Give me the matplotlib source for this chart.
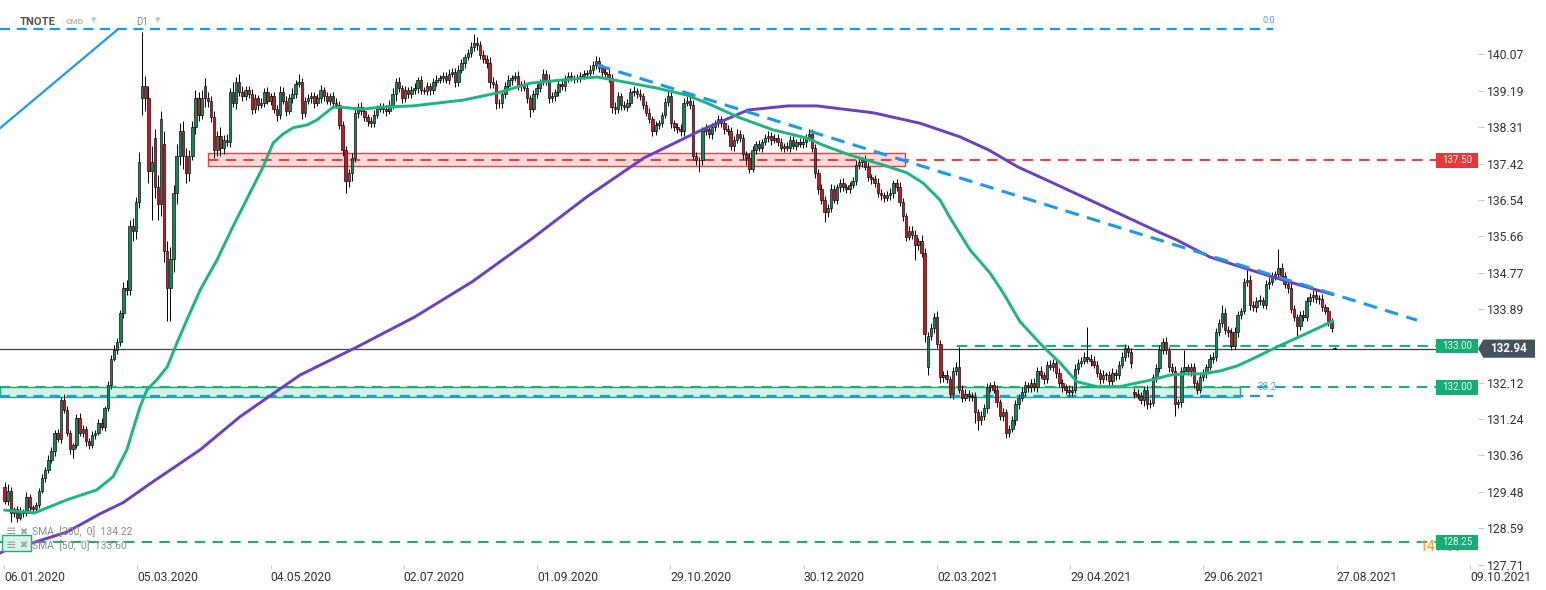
import matplotlib
matplotlib.use('Agg')
import matplotlib.pyplot as plt
from matplotlib.patches import Rectangle, Polygon
import numpy as np

plt.rcParams['font.family'] = ['Roboto', 'DejaVu Sans']

# daily closes, TNOTE D1, 06.01.2020 -> 26.08.2021
closes = [
    129.25, 129.5, 128.95, 129.05, 128.85, 129.0, 128.95, 129.35, 129.1, 129.05,
    129.15, 129.5, 129.8, 130.0, 130.25, 130.45, 130.9, 130.75, 131.7, 131.45,
    130.9, 130.5, 130.6, 131.25, 130.9, 131.0, 130.7, 130.6, 130.85, 130.9,
    131.15, 131.05, 131.5, 132.05, 132.7, 132.9, 133.1, 133.8, 134.4, 134.35,
    135.9, 135.8, 136.5, 137.45, 139.3, 139.0, 137.25, 137.45, 136.85, 136.45,
    138.5, 135.3, 134.4, 135.1, 136.7, 137.6, 138.2, 137.6, 137.2, 137.6,
    138.3, 139.0, 138.6, 139.0, 139.0, 138.95, 138.55, 137.75, 138.1, 137.8,
    138.0, 137.95, 139.15, 138.9, 139.4, 139.15, 139.05, 139.2, 139.12, 138.75,
    139.0, 138.85, 138.9, 139.15, 138.95, 139.05, 138.75, 138.6, 139.15, 138.95,
    138.7, 139.0, 139.1, 139.35, 139.4, 138.65, 138.95, 139.0, 139.05, 138.9,
    139.0, 139.2, 139.05, 138.95, 139.05, 138.9, 138.85, 138.35, 137.75, 137.0,
    137.2, 137.55, 138.65, 138.8, 138.7, 138.55, 138.45, 138.4, 138.6, 138.75,
    138.8, 138.75, 138.7, 138.85, 139.1, 139.4, 139.25, 139.0, 139.2, 139.1,
    139.2, 139.25, 139.45, 139.2, 139.18, 139.3, 139.2, 139.4, 139.45, 139.5,
    139.55, 139.45, 139.6, 139.65, 139.4, 139.7, 139.85, 140.0, 140.1, 140.25,
    140.35, 140.3, 140.05, 139.95, 139.85, 139.4, 139.35, 138.9, 138.88, 139.1,
    139.3, 139.45, 139.5, 139.55, 139.3, 139.35, 139.25, 139.0, 138.75, 139.1,
    139.25, 139.4, 139.6, 139.45, 139.0, 139.05, 139.15, 139.35, 139.3, 139.5,
    139.55, 139.5, 139.48, 139.5, 139.55, 139.6, 139.62, 139.7, 139.8, 139.9,
    139.75, 139.65, 139.6, 139.5, 138.8, 138.75, 139.05, 138.85, 138.8, 138.9,
    139.15, 139.18, 139.12, 139.05, 138.85, 138.65, 138.5, 138.2, 138.35, 138.4,
    138.6, 138.92, 139.05, 138.4, 138.3, 138.25, 138.2, 138.9, 138.95, 138.85,
    137.6, 137.5, 137.5, 138.2, 138.25, 138.15, 138.3, 138.4, 138.5, 138.4,
    138.25, 138.2, 137.85, 138.0, 138.15, 138.05, 137.65, 137.55, 137.3, 137.75,
    137.9, 137.8, 137.95, 138.05, 138.1, 138.0, 138.05, 137.95, 137.8, 137.85,
    137.8, 138.0, 137.85, 137.95, 137.9, 137.95, 138.05, 138.15, 137.8, 137.2,
    136.8, 136.55, 136.25, 136.35, 136.8, 136.55, 136.85, 136.95, 136.85, 136.8,
    136.9, 137.0, 137.4, 137.45, 137.5, 137.35, 137.1, 137.05, 136.95, 136.7,
    136.65, 136.6, 136.65, 136.7, 136.95, 136.85, 136.5, 136.15, 135.65, 135.8,
    135.7, 135.45, 135.55, 135.25, 133.3, 133.25, 133.45, 133.7, 133.05, 132.25,
    132.3, 132.2, 131.85, 132.4, 132.5, 131.95, 131.75, 131.85, 131.8, 131.78,
    131.4, 131.2, 131.3, 131.5, 132.0, 132.05, 131.95, 131.65, 131.3, 131.4,
    130.9, 131.0, 131.2, 131.6, 131.75, 131.9, 132.05, 132.0, 132.1, 132.0,
    132.4, 132.3, 132.2, 132.55, 132.5, 132.6, 132.35, 132.1, 132.0, 131.95,
    131.9, 131.95, 132.45, 132.6, 132.65, 132.75, 132.7, 132.65, 132.55, 132.35,
    132.2, 132.3, 132.3, 132.15, 132.35, 132.3, 132.55, 132.75, 132.95, 132.85,
    132.6, 131.85, 131.8, 131.7, 131.95, 131.6, 131.62, 132.25, 132.47, 132.9,
    133.1, 132.9, 132.5, 132.4, 131.6, 131.65, 132.4, 132.5, 132.4, 132.5,
    132.1, 131.95, 132.25, 132.35, 132.5, 132.7, 132.75, 133.35, 133.55, 133.8,
    133.4, 133.35, 133.0, 133.35, 133.75, 133.85, 134.55, 134.6, 134.0, 133.95,
    134.1, 134.12, 134.0, 134.5, 134.55, 134.7, 134.75, 134.9, 134.7, 134.5,
    134.4, 133.9, 133.7, 133.5, 133.75, 133.7, 134.1, 134.2, 134.25, 134.15,
    134.15, 133.95, 133.85, 133.6, 133.45, 132.94,
]

# opens that gap away from the previous close
gap_opens = {0: 129.6, 44: 139.0, 48: 138.05, 51: 137.9, 64: 139.3,
             295: 132.5, 361: 131.9, 425: 132.96}

# wick lengths above / below the body, in hundredths
wick_up = [
    10, 15, 8, 6, 8, 10, 5, 12, 8, 6,  8, 6, 10, 8, 12, 10, 8, 10, 8, 15,
    10, 8, 6, 10, 12, 8, 6, 8, 10, 8,  8, 10, 6, 10, 8, 12, 10, 8, 15, 20,
    15, 20, 12, 25, 130, 25, 30, 40, 20, 30,  20, 30, 25, 30, 20, 30, 20, 25, 20, 15,
    15, 20, 15, 20, 20, 15, 10, 15, 12, 20,  12, 15, 10, 25, 12, 20, 15, 10, 10, 12,
    10, 8, 12, 10, 12, 8, 10, 8, 15, 12,  10, 12, 15, 10, 20, 10, 8, 12, 10, 10,
    10, 12, 8, 10, 8, 10, 12, 8, 10, 10,  10, 12, 15, 10, 12, 10, 8, 10, 12, 10,
    10, 8, 10, 12, 15, 10, 12, 8, 10, 8,  10, 12, 8, 10, 8, 10, 8, 10, 12, 8,
    8, 10, 12, 8, 10, 12, 10, 8, 10, 12,  20, 15, 10, 12, 10, 15, 12, 10, 8, 10,
    10, 12, 8, 10, 12, 8, 10, 12, 8, 10,  10, 8, 12, 10, 15, 10, 8, 10, 12, 8,
    8, 10, 8, 10, 8, 10, 8, 12, 10, 12,  10, 8, 10, 12, 10, 12, 10, 8, 10, 8,
    10, 12, 8, 10, 8, 10, 12, 8, 10, 8,  8, 10, 12, 10, 8, 10, 12, 10, 15, 10,
    12, 10, 8, 10, 12, 8, 10, 8, 10, 8,  8, 10, 12, 8, 10, 8, 10, 8, 12, 10,
    8, 10, 8, 10, 12, 8, 10, 8, 10, 8,  10, 8, 10, 8, 10, 12, 8, 10, 12, 10,
    10, 12, 8, 10, 12, 10, 8, 10, 12, 8,  8, 10, 12, 10, 8, 12, 10, 8, 10, 12,
    10, 8, 10, 12, 8, 10, 12, 10, 8, 10,  10, 12, 8, 15, 12, 10, 12, 10, 15, 10,
    10, 12, 8, 10, 12, 48, 10, 12, 8, 10,  10, 8, 12, 10, 12, 8, 10, 12, 8, 10,
    8, 10, 12, 10, 8, 12, 10, 8, 10, 12,  10, 12, 8, 10, 12, 10, 8, 12, 10, 8,
    10, 8, 12, 10, 8, 12, 71, 10, 12, 8,  10, 12, 8, 10, 12, 10, 8, 12, 10, 8,
    10, 8, 12, 10, 8, 12, 10, 8, 10, 12,  10, 12, 8, 10, 12, 8, 10, 40, 8, 10,
    10, 8, 12, 10, 8, 12, 10, 8, 10, 20,  12, 10, 8, 12, 10, 8, 10, 30, 12, 10,
    10, 12, 8, 10, 12, 10, 8, 45, 12, 10,  10, 12, 10, 8, 10, 12, 10, 8, 12, 10,
    10, 12, 8, 10, 8, 2,
]
wick_dn = [
    8, 10, 20, 8, 10, 6, 8, 6, 8, 10,  6, 8, 6, 10, 8, 8, 10, 8, 10, 8,
    8, 12, 20, 6, 8, 10, 12, 8, 6, 10,  6, 8, 10, 6, 8, 6, 8, 10, 12, 10,
    10, 25, 20, 15, 40, 30, 30, 120, 25, 40,  30, 25, 80, 80, 30, 25, 20, 30, 25, 20,
    10, 15, 15, 10, 20, 15, 12, 20, 15, 20,  15, 10, 12, 10, 15, 10, 12, 8, 10, 12,
    10, 12, 8, 10, 8, 12, 10, 15, 10, 8,  12, 8, 10, 10, 8, 15, 10, 8, 10, 12,
    8, 10, 12, 8, 10, 12, 8, 10, 15, 30,  15, 20, 10, 12, 10, 10, 12, 8, 10, 8,
    8, 10, 12, 8, 10, 15, 10, 12, 8, 10,  10, 8, 12, 10, 8, 10, 12, 8, 10, 8,
    10, 8, 10, 8, 12, 10, 8, 10, 8, 10,  10, 12, 10, 8, 12, 15, 10, 15, 12, 10,
    8, 10, 12, 8, 10, 12, 8, 10, 20, 8,  8, 10, 8, 12, 10, 8, 10, 8, 10, 12,
    10, 8, 10, 8, 10, 8, 10, 8, 10, 8,  10, 12, 8, 10, 15, 12, 10, 12, 8, 10,
    8, 10, 12, 8, 10, 8, 10, 12, 8, 10,  10, 8, 10, 12, 10, 8, 10, 12, 8, 10,
    10, 12, 28, 10, 8, 10, 12, 8, 10, 8,  10, 8, 10, 12, 8, 10, 12, 15, 10, 8,
    10, 8, 10, 8, 10, 12, 8, 10, 8, 10,  8, 10, 8, 10, 8, 10, 12, 8, 10, 12,
    12, 10, 25, 12, 10, 8, 10, 12, 8, 10,  10, 8, 10, 12, 10, 8, 10, 12, 10, 8,
    12, 10, 8, 10, 12, 8, 10, 12, 10, 8,  10, 36, 12, 10, 20, 20, 10, 12, 10, 15,
    12, 10, 10, 12, 10, 8, 10, 8, 12, 10,  25, 23, 10, 8, 12, 10, 8, 12, 10, 12,
    12, 10, 8, 10, 12, 8, 10, 12, 10, 8,  10, 8, 12, 10, 8, 10, 12, 8, 10, 12,
    12, 10, 8, 12, 10, 8, 10, 12, 8, 10,  12, 10, 12, 8, 10, 12, 10, 8, 10, 12,
    12, 10, 8, 10, 15, 12, 10, 8, 12, 10,  10, 8, 12, 10, 30, 10, 12, 8, 10, 12,
    12, 10, 8, 10, 12, 8, 10, 12, 10, 8,  10, 12, 10, 8, 12, 10, 8, 10, 12, 10,
    12, 10, 8, 10, 12, 8, 10, 12, 8, 10,  12, 10, 8, 30, 12, 10, 8, 10, 12, 10,
    12, 10, 8, 12, 10, 2,
]

# moving averages (bar index, value)
sma50_bars = [0, 9.5, 20, 29.5, 34.7, 39.1, 41.0, 43.3, 45.5, 48.7, 52, 55.1, 58.3,
              62.5, 67.9, 73, 78.4, 82.6, 85.8, 89, 92.2, 96.7, 99.8, 103, 105, 107.2,
              114.5, 120, 130.5, 146.5, 157.3, 167.9, 178.4, 189.3, 196.6, 208.5, 218,
              224.4, 235, 245.5, 256.4, 261.5, 270.1, 280.7, 288.3, 293.5, 298.9, 302.1,
              308.5, 314.9, 319, 324.4, 331.8, 337.2, 342.6, 349, 356.4, 361.8, 366.9,
              372.4, 377.8, 383, 388.3, 393.8, 398.9, 406.5, 414.9, 420.3, 424.4]
sma50_vals = [129.03, 128.96, 129.28, 129.52, 129.84, 130.49, 130.97, 131.53, 131.94,
              132.19, 132.5, 133.08, 133.64, 134.36, 135.09, 135.9, 136.71, 137.34,
              137.92, 138.14, 138.29, 138.36, 138.48, 138.67, 138.79, 138.79, 138.74,
              138.79, 138.82, 138.96, 139.13, 139.37, 139.45, 139.52, 139.42, 139.25,
              139.08, 138.89, 138.53, 138.24, 138.04, 137.87, 137.63, 137.39, 137.2,
              136.95, 136.54, 136.11, 135.33, 134.77, 134.3, 133.6, 132.99, 132.6,
              132.14, 132.02, 132.02, 132.11, 132.19, 132.3, 132.33, 132.33, 132.4,
              132.52, 132.7, 132.98, 133.27, 133.46, 133.61]
sma200_bars = [-1.44, 0.8, 9.1, 20, 30.5, 37.9, 46.5, 62.5, 75.2, 94.4, 112.6, 131.1,
               149.4, 167.9, 186.1, 204.3, 222.8, 237.5, 250.3, 259.6, 277.8, 292.5,
               305.3, 314.5, 323.8, 332.8, 351.3, 369.5, 374.6, 385.1, 397.9, 408.5,
               419.3, 424.4]
sma200_vals = [127.99, 128.07, 128.24, 128.5, 128.94, 129.21, 129.67, 130.49, 131.29,
               132.3, 132.98, 133.71, 134.56, 135.57, 136.62, 137.56, 138.24, 138.72,
               138.82, 138.82, 138.65, 138.4, 138.07, 137.75, 137.34, 137.03, 136.38,
               135.74, 135.57, 135.16, 134.85, 134.6, 134.36, 134.25]

price_ticks = [140.07, 139.19, 138.31, 137.42, 136.54, 135.66, 134.77, 133.89,
               132.12, 131.24, 130.36, 129.48, 128.59, 127.71]
date_labels = ['06.01.2020', '05.03.2020', '04.05.2020', '02.07.2020', '01.09.2020',
               '29.10.2020', '30.12.2020', '02.03.2021', '29.04.2021', '29.06.2021',
               '27.08.2021', '09.10.2021']

# drawings
fib_0 = 140.68
fib_382 = 131.80
fib_ray = [(-1.44, 138.28), (36.3, 140.68)]
trend_line = [(189.3, 139.81), (451.3, 133.63)]
res_level = 137.50
res_zone = (65.0, 287.7, 137.37, 137.67)
sup_zone = (-1.44, 394.7, 131.78, 132.00)
green_levels = [(133.00, 304.3), (132.00, -1.44), (128.25, -1.44)]
last_price = 132.94

GREEN = '#0f8a58'
RED = '#d8121c'
SMA50_C = '#1bb67e'
SMA200_C = '#6a3fc3'
BLUE = '#1e98ee'
LVL_GREEN = '#1dae77'
LVL_RED = '#e5433f'

W, H = 1546, 590
fig = plt.figure(figsize=(W / 100, H / 100), dpi=100)
ax = fig.add_axes([0, 25 / H, 1478 / W, 565 / H])
ax.set_xlim(-1.44, 470.78)
ax.set_ylim(127.70, 141.385)
for s in ax.spines.values():
    s.set_visible(False)

# candles
c = np.array(closes)
o = np.r_[c[0], c[:-1]]
for i, v in gap_opens.items():
    o[i] = v
hi = np.maximum(o, c) + np.array(wick_up) / 100
lo = np.minimum(o, c) - np.array(wick_dn) / 100
x = np.arange(len(c))
cols = [GREEN if cc >= oo else RED for oo, cc in zip(o, c)]
ax.vlines(x, lo, hi, color='black', linewidth=0.7, zorder=3)
ax.bar(x, np.maximum(np.abs(c - o), 0.02), bottom=np.minimum(o, c), width=0.78,
       color=cols, edgecolor='black', linewidth=0.45, zorder=3.5)

# zones
x0, x1, y0, y1 = res_zone
ax.add_patch(Rectangle((x0, y0), x1 - x0, y1 - y0, facecolor='#fcdada', edgecolor='#e04542',
                       linewidth=1, zorder=1))
x0, x1, y0, y1 = sup_zone
ax.add_patch(Rectangle((x0, y0), x1 - x0, y1 - y0, facecolor='#d5f2e6', edgecolor=LVL_GREEN,
                       linewidth=1, zorder=1))

# horizontal levels
LVL_END = 457.3
ax.plot([res_zone[0], LVL_END], [res_level] * 2, color=LVL_RED, lw=1.5, dashes=(5, 3.5), zorder=2)
for lvl, start in green_levels:
    ax.plot([start, LVL_END], [lvl] * 2, color=LVL_GREEN, lw=1.5, dashes=(5, 3.5), zorder=2)
ax.plot([-1.44, LVL_END], [last_price] * 2, color='#37424a', lw=0.9, zorder=2)

# fibonacci
ax.plot([-1.44, 405.3], [fib_0] * 2, color=BLUE, lw=1.6, dashes=(4.5, 3), zorder=2)
ax.plot([-1.44, 405.3], [fib_382] * 2, color=BLUE, lw=1.6, dashes=(4.5, 3), zorder=2)
ax.plot(*zip(*fib_ray), color=BLUE, lw=1.6, zorder=2)
ax.text(401.8, 140.9, '0.0', color='#4ea9f2', fontsize=6.5, ha='left', va='center')
ax.text(400.2, 132.02, '38.2', color='#4ea9f2', fontsize=7, ha='left', va='center')

# moving averages and trend line
ax.plot(sma200_bars, sma200_vals, color=SMA200_C, lw=2.1, zorder=4,
        solid_capstyle='round', solid_joinstyle='round')
ax.plot(sma50_bars, sma50_vals, color=SMA50_C, lw=2.1, zorder=4,
        solid_capstyle='round', solid_joinstyle='round')
ax.plot(*zip(*trend_line), color=BLUE, lw=2.2, dashes=(4.5, 2.8), zorder=5)

# price boxes on the right edge
ax.text(452.2, 128.13, '141.68', color='#ff9a1a', fontsize=10, ha='left', va='center',
        zorder=2, clip_on=False)


def price_box(level, color):
    ax.add_patch(Rectangle((LVL_END, level - 0.175), 470.78 - LVL_END, 0.35, facecolor=color,
                           edgecolor='none', clip_on=False, zorder=6))
    ax.text((LVL_END + 470.78) / 2, level, f'{level:.2f}', color='white', fontsize=7,
            ha='center', va='center', zorder=7, clip_on=False)


price_box(res_level, '#e53935')
for lvl, _ in green_levels:
    price_box(lvl, '#14ad74')

ax.add_patch(Polygon([(470.8, last_price), (472.5, last_price + 0.22), (489.0, last_price + 0.22),
                      (489.0, last_price - 0.22), (472.5, last_price - 0.22)],
                     closed=True, facecolor='#44525c', edgecolor='none', clip_on=False, zorder=6))
ax.text(480.6, last_price, f'{last_price:.2f}', color='white', fontsize=8.4, fontweight='bold',
        ha='center', va='center', zorder=7, clip_on=False)

# axes
ax.yaxis.tick_right()
ax.set_yticks(price_ticks)
ax.set_yticklabels([f'{v:.2f}' for v in price_ticks])
ax.tick_params(axis='y', length=4.3, width=0.8, color='#c5ccd1', pad=2.2,
               labelsize=8.7, labelcolor='#333333')
ax.set_xticks([-0.16 + 42.58 * k for k in range(len(date_labels))])
ax.set_xticklabels(date_labels, ha='left')
ax.tick_params(axis='x', length=3, width=0.8, color='#c5ccd1', pad=1.2,
               labelsize=8.7, labelcolor='#333333')

# header
def ftxt(px, py, s, **kw):
    fig.text(px / W, 1 - py / H, s, va='center', **kw)


ftxt(20, 22, 'TNOTE', color='#555555', fontsize=8, fontweight='bold')
ftxt(66, 21, 'CMD', color='#b5b5b5', fontsize=6, fontweight='bold')
ftxt(91, 20, '▾', color='#c5c5c5', fontsize=8)
ftxt(136, 22, 'D1', color='#8a8a8a', fontsize=7)
ftxt(155, 20, '▾', color='#c5c5c5', fontsize=8)

# indicator legend
fig.add_artist(Rectangle((2 / W, 1 - 551 / H), 29 / W, 16 / H, transform=fig.transFigure,
                         facecolor='#d8f3e8', edgecolor='#22b07a', linewidth=1, zorder=5))
for py in (532, 545):
    ftxt(6, py, '≡', color='#9a9a9a', fontsize=9, zorder=6)
    ftxt(19, py, '✖', color='#a5a5a5', fontsize=7, zorder=6)
ftxt(32, 532, 'SMA  [200,  0]  134.22', color='#8c8c8c', fontsize=7.5, zorder=6)
ftxt(32, 546, 'SMA  [50,  0]  133.60', color='#8c8c8c', fontsize=7.5, zorder=6)

fig.savefig('out.png', dpi=100, facecolor='white')
